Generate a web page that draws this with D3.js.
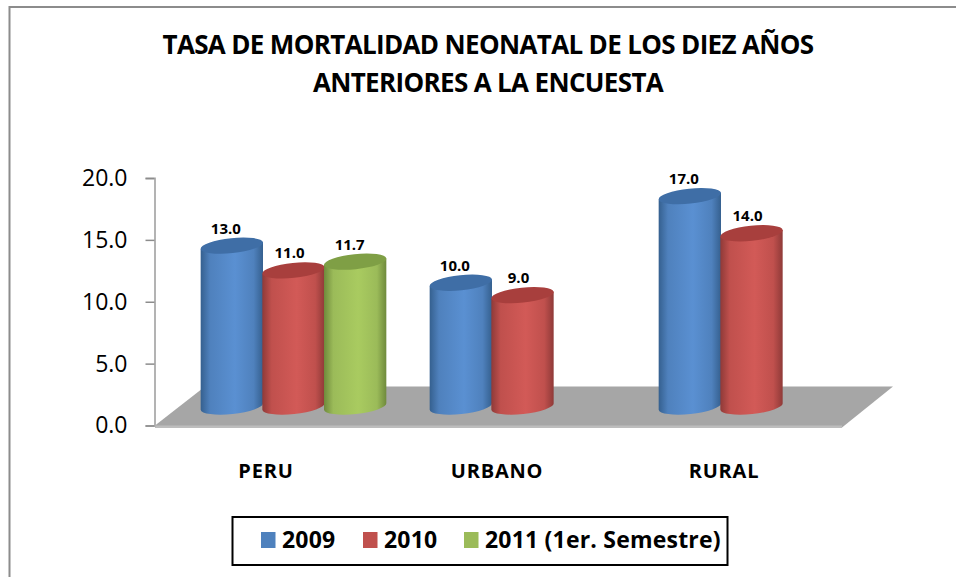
<!DOCTYPE html>
<html><head><meta charset="utf-8">
<script src="https://cdn.jsdelivr.net/npm/d3@7"></script>
<style>html,body{margin:0;padding:0;background:#fff}svg{display:block}text{font-family:"Open Sans",Lato,sans-serif;fill:#000}</style>
</head><body><svg id="c" width="956" height="577"></svg>
<script>
const titleLines=["TASA DE MORTALIDAD NEONATAL DE LOS DIEZ AÑOS","ANTERIORES A LA ENCUESTA"];
const categories=["PERU","URBANO","RURAL"];
const seriesNames=["2009","2010","2011 (1er. Semestre)"];
const values2009=[13.0,10.0,17.0];
const values2010=[11.0,9.0,14.0];
const values2011=[11.7,null,null];
const seriesValues=[values2009,values2010,values2011];
const yTicks=[0,5,10,15,20];
const colors=["#4f81bd","#c0504d","#9bbb59"];
const light=["#5a90d2","#d25a57","#a9cb60"];
const dark=["#35608f","#8f3a38","#6f8a3c"];
const top_=["#3f6ea6","#a83f3d","#7f9f45"];

const svg=d3.select("#c");
const defs=svg.append("defs");
colors.forEach((c,i)=>{
  const g=defs.append("linearGradient").attr("id","g"+i);
  [[0,dark[i]],[.15,colors[i]],[.55,light[i]],[.85,colors[i]],[1,dark[i]]].forEach(s=>g.append("stop").attr("offset",s[0]).attr("stop-color",s[1]));
});

// frame
svg.append("path").attr("d","M9.5,577V7H956").attr("fill","none").attr("stroke","#8c8c8c").attr("stroke-width",2);

// title
svg.append("g").selectAll("text").data(titleLines).join("text")
  .attr("x",488).attr("y",(d,i)=>54+i*38).attr("text-anchor","middle")
  .attr("font-size",26).attr("font-weight",700).style("letter-spacing","-0.65px").text(d=>d);

const y=d3.scaleLinear().domain([0,20]).range([425.5,178]);
const depth=19;           // the floor's depth lifts the cylinders off the axis
const x0=d3.scaleBand().domain(categories).range([179,866]);
const x1=d3.scaleBand().domain(d3.range(3)).range([22,207]);
const bw=x1.bandwidth(), rx=bw/2+.5, ry=7.5, tilt=-6;
const rad=-tilt*Math.PI/180, ex=rx*Math.cos(rad), ey=rx*Math.sin(rad);

// floor
const fx=d3.scaleLinear().domain([0,1]).range([155,842]);
svg.append("path").attr("fill","#a6a6a6")
  .attr("d",d3.line()([[fx(0),y(0)],[fx(0)+50,y(0)-39],[fx(1)+51,y(0)-39],[fx(1),y(0)+2],[fx(0),y(0)+2]]));
svg.append("rect").attr("x",fx(0)).attr("y",y(0)).attr("width",fx(1)-fx(0)).attr("height",2.5).attr("fill","#bdbdbd");

// axis
const ax=svg.append("g").attr("transform","translate(154.5,0)").call(d3.axisLeft(y).tickValues(yTicks).tickSize(9).tickPadding(18).tickFormat(d3.format(".1f")));
ax.select(".domain").attr("stroke","#b3b3b3").attr("stroke-width",2);
ax.selectAll(".tick line").attr("stroke","#8c8c8c").attr("stroke-width",1.5);
ax.selectAll(".tick text").attr("font-size",23).attr("dy","0.32em").attr("fill","#000");

// cylinders
const rows=[];
seriesValues.forEach((vals,s)=>vals.forEach((v,c)=>{if(v!=null)rows.push({s,c,v,cat:categories[c]})}));
const cyl=svg.append("g").selectAll("g").data(rows).join("g")
  .attr("transform",d=>`translate(${x0(d.cat)+x1(d.s)+bw/2},0)`);
const body=d=>{
  const yt=y(d.v)-depth,yb=y(0)-depth;
  return `M${-ex},${yt+ey}L${-ex},${yb+ey}A${rx},${ry} ${tilt} 0 0 ${ex},${yb-ey}L${ex},${yt-ey}Z`;
};
cyl.append("path").attr("d",body).attr("fill",d=>`url(#g${d.s})`);
cyl.append("ellipse").attr("rx",rx).attr("ry",ry).attr("cy",d=>y(d.v)-depth)
  .attr("transform",d=>`rotate(${tilt} 0 ${y(d.v)-depth})`).attr("fill",d=>top_[d.s]);
// value labels
const labelShift=[-6,-4,-5.5];
cyl.append("text").attr("x",d=>labelShift[d.s]).attr("y",d=>y(d.v)-depth-12).attr("text-anchor","middle")
  .attr("font-size",15).attr("font-weight",700).text(d=>d3.format(".1f")(d.v));

// categories
const catOffset=[65,67,65];
svg.append("g").selectAll("text").data(categories).join("text")
  .attr("x",(d,i)=>x0(d)+catOffset[i]+22).attr("y",478).attr("text-anchor","middle")
  .attr("font-size",20).attr("font-weight",700).style("letter-spacing","0.8px").text(d=>d);

// legend
svg.append("rect").attr("x",232.5).attr("y",517).attr("width",495).attr("height",48).attr("fill","#fff").attr("stroke","#000").attr("stroke-width",2);
const legX=[261,363,464];
const leg=svg.append("g").selectAll("g").data(seriesNames).join("g").attr("transform",(d,i)=>`translate(${legX[i]},0)`);
leg.append("rect").attr("y",532).attr("width",14.5).attr("height",16).attr("fill",(d,i)=>colors[i]);
leg.append("text").attr("x",21).attr("y",548).attr("font-size",23).attr("font-weight",700).style("letter-spacing","0.2px").text(d=>d);
</script></body></html>
